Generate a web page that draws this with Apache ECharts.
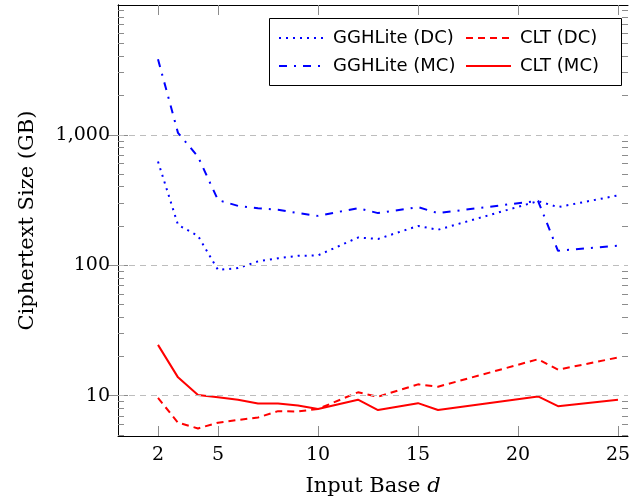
<!DOCTYPE html>
<html>
<head>
<meta charset="utf-8">
<script src="https://cdn.jsdelivr.net/npm/echarts@6.0.0/dist/echarts.min.js"></script>
<style>
  html, body { margin: 0; padding: 0; background: #fff; }
  #chart { width: 629px; height: 497px; }
</style>
</head>
<body>
<div id="chart"></div>
<script>
  // input base d
  var bases = [2, 3, 4, 5, 6, 7, 8, 9, 10, 12, 13, 15, 16, 21, 22, 25]
  // ciphertext size in GB
  var gghliteDC = [624, 204, 168, 92, 95, 107, 113, 118, 119, 163, 159, 200, 187, 310, 279, 343]
  var gghliteMC = [3800, 1035, 680, 316, 285, 274, 266, 251, 239, 274, 251, 279, 251, 312, 129, 141]
  var cltDC = [9.6, 6.2, 5.6, 6.2, 6.5, 6.8, 7.6, 7.55, 7.9, 10.6, 9.8, 12.2, 11.7, 19.0, 15.8, 19.6]
  var cltMC = [24.5, 13.8, 10.1, 9.7, 9.3, 8.7, 8.7, 8.4, 7.9, 9.3, 7.75, 8.75, 7.75, 9.85, 8.3, 9.3]

  var xTicks = [2, 5, 10, 15, 20, 25]
  var yTicks = [10, 100, 1000]
  var yMinorTicks = [5, 6, 7, 8, 9, 20, 30, 40, 50, 60, 70, 80, 90,
    200, 300, 400, 500, 600, 700, 800, 900, 2000, 3000, 4000, 5000, 6000, 7000, 8000, 9000]

  function pairs(vals) {
    return bases.map(function (d, i) { return [d, vals[i]] })
  }

  var tickGray = '#8c8c8c'
  var serif = '"DejaVu Serif", serif'
  var sans = '"DejaVu Sans", sans-serif'

  function yAxisBase(pos, minor) {
    return {
      type: 'log',
      logBase: 10,
      position: pos,
      min: 4.9,
      max: 9900,
      splitNumber: 6,
      axisLine: {show: !minor, lineStyle: {color: '#000', width: 1}},
      axisTick: {
        show: true,
        inside: true,
        length: minor ? 6 : 10,
        customValues: minor ? yMinorTicks : yTicks,
        lineStyle: {color: tickGray}
      },
      axisLabel: {show: false},
      splitLine: {show: false},
      minorTick: {show: false}
    }
  }

  function legendAt(left, names) {
    return {
      left: left,
      top: 29,
      orient: 'vertical',
      padding: 0,
      itemWidth: 45,
      itemHeight: 14,
      itemGap: 10,
      z: 10,
      itemStyle: {opacity: 0},
      textStyle: {fontFamily: sans, fontSize: 18, lineHeight: 18, color: '#000', padding: [0, 0, 0, 4]},
      data: names
    }
  }

  var chart = echarts.init(document.getElementById('chart'), null, {renderer: 'canvas'})

  var yMain = yAxisBase('left', false)
  yMain.name = 'Ciphertext Size (GB)'
  yMain.nameLocation = 'middle'
  yMain.nameGap = 80
  yMain.nameTextStyle = {fontFamily: serif, fontSize: 21, color: '#000'}
  yMain.axisLabel = {
    show: true,
    customValues: yTicks,
    fontFamily: serif,
    fontSize: 19,
    color: '#000',
    margin: 8,
    formatter: function (v) { return Math.round(v).toLocaleString('en-US') }
  }

  chart.setOption({
    animation: false,
    backgroundColor: '#fff',
    grid: {left: 118, right: 1, top: 5, bottom: 61, containLabel: false, outerBoundsMode: 'none'},
    xAxis: [{
      type: 'value',
      min: 0,
      max: 25.5,
      position: 'bottom',
      name: '{a|Input Base }{b|d}',
      nameLocation: 'middle',
      nameGap: 40,
      nameTextStyle: {
        rich: {
          a: {fontFamily: serif, fontSize: 21, color: '#000'},
          b: {fontFamily: serif, fontSize: 21, fontStyle: 'italic', color: '#000'}
        }
      },
      axisLine: {show: true, lineStyle: {color: '#000', width: 1}},
      axisTick: {show: true, inside: true, length: 10, customValues: xTicks, lineStyle: {color: tickGray}},
      axisLabel: {customValues: xTicks, fontFamily: serif, fontSize: 19, color: '#000', margin: 10},
      splitLine: {show: false}
    }, {
      type: 'value',
      min: 0,
      max: 25.5,
      position: 'top',
      axisLine: {show: true, lineStyle: {color: '#000', width: 1}},
      axisTick: {show: true, inside: true, length: 10, customValues: xTicks, lineStyle: {color: tickGray}},
      axisLabel: {show: false},
      splitLine: {show: false}
    }],
    yAxis: [yMain, yAxisBase('right', false), yAxisBase('left', true), yAxisBase('right', true)],
    legend: [
      legendAt(278, ['GGHLite (DC)', 'GGHLite (MC)']),
      legendAt(465, ['CLT (DC)', 'CLT (MC)'])
    ],
    graphic: [{
      type: 'rect',
      shape: {x: 269.5, y: 18.5, width: 352, height: 67},
      style: {fill: '#fff', stroke: '#000', lineWidth: 1},
      z: 3
    }],
    series: [{
      // horizontal grid lines at the labelled decades
      type: 'line',
      data: [],
      z: 1,
      silent: true,
      markLine: {
        silent: true,
        symbol: 'none',
        label: {show: false},
        lineStyle: {color: '#bdbdbd', type: [6, 5], width: 1},
        data: yTicks.map(function (v) { return {yAxis: v} })
      }
    }, {
      name: 'GGHLite (DC)',
      type: 'line',
      symbol: 'none',
      data: pairs(gghliteDC),
      lineStyle: {color: '#0000ff', width: 2, type: [2, 5]},
      itemStyle: {color: '#0000ff'}
    }, {
      name: 'GGHLite (MC)',
      type: 'line',
      symbol: 'none',
      data: pairs(gghliteMC),
      lineStyle: {color: '#0000ff', width: 2, type: [8, 7, 2, 7]},
      itemStyle: {color: '#0000ff'}
    }, {
      name: 'CLT (DC)',
      type: 'line',
      symbol: 'none',
      data: pairs(cltDC),
      lineStyle: {color: '#ff0000', width: 2, type: [7, 5]},
      itemStyle: {color: '#ff0000'}
    }, {
      name: 'CLT (MC)',
      type: 'line',
      symbol: 'none',
      data: pairs(cltMC),
      lineStyle: {color: '#ff0000', width: 2},
      itemStyle: {color: '#ff0000'}
    }]
  })
</script>
</body>
</html>
